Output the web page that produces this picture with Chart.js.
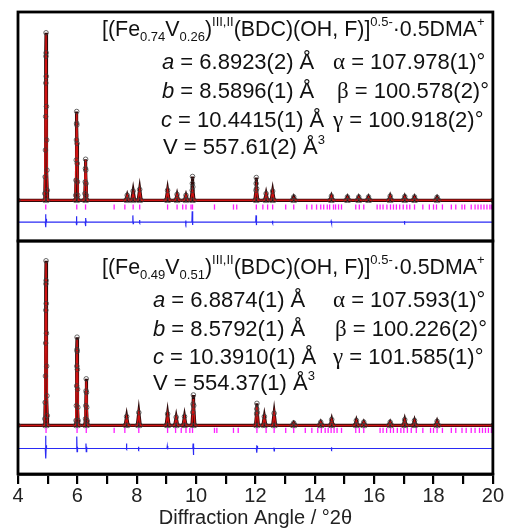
<!DOCTYPE html>
<html>
<head>
<meta charset="utf-8">
<script src="https://cdn.jsdelivr.net/npm/chart.js@4.4.1/dist/chart.umd.min.js"></script>
<style>
  html, body { margin: 0; padding: 0; background: #fff; }
  #wrap { width: 506px; height: 529px; }
</style>
</head>
<body>
<div id="wrap"><canvas id="xrd"></canvas></div>
<script>
// ---- top panel : (Fe0.74V0.26) ----
const topPeakX = [4.945, 5.978, 6.278, 7.68, 7.88, 8.10, 9.04, 9.36, 9.66, 9.88, 12.03, 12.36, 12.58, 13.29, 14.56, 15.10, 15.48, 15.81, 16.54, 17.03, 17.36, 18.12];
const topCalcH = [99, 52, 24, 3, 4.5, 6.5, 6, 3.5, 3, 6, 8.3, 4, 5.3, 1.5, 2.5, 1.8, 1.8, 1.8, 2.5, 2, 1.8, 1.5];
const topObsH  = [100, 53, 24.5, 3, 5.5, 6.5, 6, 3.5, 3, 14.2, 13.6, 4, 5.5, 2, 2.5, 2, 2, 2, 2.5, 2.2, 2, 1.8];
// extra observed points on the flanks of the strong reflections
const topFlankX = [4.905, 4.915, 4.925, 4.932, 4.938, 4.942, 4.948, 4.952, 4.958, 4.965, 4.975, 4.985,
                   5.945, 5.955, 5.963, 5.970, 5.975, 5.982, 5.988, 5.995, 6.003, 6.012,
                   6.255, 6.265, 6.272, 6.284, 6.292, 6.302,
                   9.870, 9.875, 9.890, 12.020, 12.025, 12.040];
const topFlankY = [4, 14, 30, 50, 70, 86, 88, 74, 56, 36, 18, 6,
                   3, 12, 24, 36, 46, 45, 34, 22, 11, 3,
                   4, 11, 19, 18, 10, 3,
                   6, 10, 8, 6, 10, 7];
const topDiffX = [4.0, 4.92, 4.93, 4.94, 4.95, 4.96, 5.96, 5.97, 5.98, 5.99, 6.26, 6.27, 6.28, 6.29, 6.30,
                  7.86, 7.87, 7.88, 7.89, 8.08, 8.09, 8.10, 8.11, 9.64, 9.65, 9.66, 9.67, 9.86, 9.87, 9.88, 9.89,
                  12.01, 12.02, 12.03, 12.04, 12.56, 12.57, 12.58, 12.59, 14.54, 14.55, 14.56, 14.57,
                  17.01, 17.02, 17.03, 17.04, 20.0];
const topDiffY = [0, 0, 4.7, -3, 2, 0, 0, 3.5, -1.8, 0, 0, 2.4, -2.4, 1.8, 0,
                  0, 4, -1, 0, 0, 1.2, -0.6, 0, 0, 1, -1, 0, 0, 6.5, -1.8, 0,
                  0, 4, -1.8, 0, 0, 0.8, -0.8, 0, 0, 0.6, -0.6, 0,
                  0, 0.6, -0.5, 0, 0];
const topBraggX = [4.935, 5.98, 6.276, 7.24, 7.60, 7.88, 8.10, 9.04, 9.36, 9.55, 9.66, 9.83, 9.88, 10.62, 11.26, 11.37,
                   12.03, 12.25, 12.41, 12.58, 13.02, 13.29, 13.73, 13.90, 14.06, 14.20, 14.30, 14.42, 14.50, 14.63, 14.70,
                   14.80, 14.90, 15.38, 15.50, 15.65, 16.10, 16.20, 16.30, 16.43, 16.55, 16.65, 16.75, 16.86, 16.98, 17.10,
                   17.20, 17.36, 17.64, 17.86, 18.00, 18.10, 18.30, 18.60, 18.75, 18.96, 19.05, 19.27, 19.40, 19.50, 19.60,
                   19.70, 19.80, 19.90, 19.96];

// ---- bottom panel : (Fe0.49V0.51) ----
const botPeakX = [4.945, 5.99, 6.30, 7.66, 8.07, 9.04, 9.33, 9.61, 9.91, 12.05, 12.30, 12.63, 13.29, 14.20, 14.57, 15.40, 15.65, 16.54, 17.03, 17.36, 18.12];
const botCalcH = [99, 52, 27, 5, 7.5, 6.8, 5, 5.2, 16, 11.5, 5.2, 7.4, 1.5, 2, 3.4, 2.8, 2, 2, 3.3, 2.8, 2.3];
const botObsH  = [100, 53.6, 28.3, 5.4, 7.8, 7, 5, 5.4, 18.5, 13.4, 5.4, 7.4, 1.5, 2, 3.6, 3, 2, 2, 3.5, 3, 2.5];
const botFlankX = [4.905, 4.915, 4.925, 4.932, 4.938, 4.942, 4.948, 4.952, 4.958, 4.965, 4.975, 4.985,
                   5.957, 5.967, 5.975, 5.982, 5.987, 5.994, 6.000, 6.007, 6.015, 6.024,
                   6.275, 6.285, 6.293, 6.307, 6.315, 6.325,
                   9.890, 9.900, 9.920, 12.040, 12.045, 12.060];
const botFlankY = [4, 14, 30, 50, 70, 86, 88, 74, 56, 36, 18, 6,
                   3, 12, 24, 36, 46, 45, 34, 22, 11, 3,
                   4, 12, 21, 20, 11, 3,
                   8, 13, 12, 7, 10, 8];
const botDiffX = [4.0, 4.92, 4.93, 4.94, 4.95, 4.96, 5.97, 5.98, 5.99, 6.00, 6.01, 6.28, 6.29, 6.30, 6.31, 6.32,
                  7.64, 7.65, 7.66, 7.67, 8.05, 8.06, 8.07, 8.08, 9.02, 9.03, 9.04, 9.05, 9.89, 9.90, 9.91, 9.92, 9.93,
                  12.03, 12.04, 12.05, 12.06, 12.07, 12.61, 12.62, 12.63, 12.64, 14.55, 14.56, 14.57, 14.58, 20.0];
const botDiffY = [0, 0, 7.8, -6, 2, 0, 0, 7.2, -2, 1, 0, 0, 3, -2, 1, 0,
                  0, 3, -0.5, 0, 0, 1, -0.5, 0, 0, 1.5, -0.5, 0, 0, 3, -4, 1, 0,
                  0, 2, -2.5, 1.5, 0, 0, 0.5, -1.5, 0, 0, 0.8, -0.5, 0, 0];
const botBraggX = [4.945, 5.99, 6.30, 7.24, 7.60, 8.07, 9.04, 9.31, 9.50, 9.66, 9.79, 9.88, 10.62, 10.70, 11.26, 11.42,
                   12.05, 12.36, 12.63, 13.02, 13.29, 13.68, 13.90, 14.10, 14.22, 14.35, 14.45, 14.55, 14.65, 14.75, 14.90,
                   15.38, 15.50, 15.65, 16.20, 16.30, 16.42, 16.55, 16.65, 16.78, 16.90, 17.00, 17.12, 17.25, 17.42, 17.64,
                   17.90, 18.00, 18.12, 18.30, 18.60, 18.75, 18.96, 19.10, 19.27, 19.40, 19.55, 19.65, 19.75, 19.85, 19.95];

const xTicks = [4, 6, 8, 10, 12, 14, 16, 18, 20];

// offsets (where the difference curve and reflection marks sit in each panel)
const TOP_DIFF = -13, TOP_BRAGG = -4;
const BOT_DIFF = -14, BOT_BRAGG = -3;
const HALF_W = 0.05;

function calcCurve(px, ph) {
    const pts = [{ x: 4, y: 0 }];
    px.forEach((p, i) => {
        pts.push({ x: p - HALF_W, y: 0 }, { x: p, y: ph[i] }, { x: p + HALF_W, y: 0 });
    });
    pts.push({ x: 20, y: 0 });
    return pts;
}

function obsCurve(px, ph, fx, fy) {
    const pts = calcCurve(px, ph);
    fx.forEach((x, i) => pts.push({ x: x, y: fy[i] }));
    return pts.sort((a, b) => a.x - b.x);
}

function offsetCurve(xs, ys, off) {
    return xs.map((x, i) => ({ x: x, y: ys[i] + off }));
}

function panelSets(axis, px, calcH, obsH, fx, fy, dx, dy, diffOff, bx, braggOff) {
    const obs = obsCurve(px, obsH, fx, fy);
    return [
        { data: obs, yAxisID: axis, showLine: false, pointRadius: 2.3, pointBorderWidth: 0.9,
          pointBorderColor: 'rgba(60,60,60,0.85)', pointBackgroundColor: 'rgba(255,255,255,0)' },
        { data: calcCurve(px, calcH), yAxisID: axis, showLine: true, borderColor: '#d01212',
          borderWidth: 1.5, pointRadius: 0, tension: 0 },
        { data: obs, yAxisID: axis, showLine: true, borderColor: '#300a0a', borderWidth: 3.2,
          pointRadius: 0, tension: 0 },
        { data: offsetCurve(dx, dy, diffOff), yAxisID: axis, showLine: true, borderColor: '#2a2af5',
          borderWidth: 1.2, pointRadius: 0, tension: 0 },
        { data: bx.map(x => ({ x: x, y: braggOff })), yAxisID: axis, showLine: false,
          pointStyle: 'line', rotation: 90, pointRadius: 2.6, pointBorderWidth: 1.3,
          pointBorderColor: '#ff20ff' }
    ];
}

const datasets = [].concat(
    panelSets('yTop', topPeakX, topCalcH, topObsH, topFlankX, topFlankY, topDiffX, topDiffY, TOP_DIFF, topBraggX, TOP_BRAGG),
    panelSets('yBot', botPeakX, botCalcH, botObsH, botFlankX, botFlankY, botDiffX, botDiffY, BOT_DIFF, botBraggX, BOT_BRAGG)
);

const SANS = '"Liberation Sans", Arial, sans-serif';
const SERIF = '"Liberation Serif", "Times New Roman", serif';

function drawRich(ctx, x, y, parts, size) {
    const fs = size || 22;
    let cx = x;
    parts.forEach(([t, k]) => {
        let font = fs + 'px ' + SANS, dy = 0;
        if (k === 'i') font = 'italic ' + fs + 'px ' + SANS;
        if (k === 'g') font = (fs + 1) + 'px ' + SERIF;
        if (k === 'sub') { font = '13px ' + SANS; dy = 7; }
        if (k === 'sup') { font = '13px ' + SANS; dy = -8; }
        ctx.font = font;
        ctx.fillText(t, cx, y + dy);
        cx += ctx.measureText(t).width;
    });
}

const labelPlugin = {
    id: 'labels',
    afterDraw(chart) {
        const ctx = chart.ctx;
        const area = chart.chartArea;
        ctx.save();
        // panel frames
        ctx.strokeStyle = '#000';
        ctx.lineWidth = 2.8;
        ['yTop', 'yBot'].forEach(id => {
            const s = chart.scales[id];
            ctx.strokeRect(area.left, s.top, area.right - area.left, s.bottom - s.top);
        });
        ctx.fillStyle = '#111';
        ctx.textBaseline = 'middle';
        const t = chart.scales.yTop.top, b = chart.scales.yBot.top;
        drawRich(ctx, 102, t + 18, [['[(Fe', 'n'], ['0.74', 'sub'], ['V', 'n'], ['0.26', 'sub'], [')', 'n'], ['III,II', 'sup'],
            ['(BDC)(OH, F)]', 'n'], ['0.5-', 'sup'], ['·0.5DMA', 'n'], ['+', 'sup']], 21.4);
        drawRich(ctx, 162, t + 51, [['a', 'i'], [' = 6.8923(2) Å', 'n']]);
        drawRich(ctx, 333, t + 51, [['α', 'g'], [' = 107.978(1)°', 'n']]);
        drawRich(ctx, 162, t + 80, [['b', 'i'], [' = 8.5896(1) Å', 'n']]);
        drawRich(ctx, 337, t + 80, [['β', 'g'], [' = 100.578(2)°', 'n']]);
        drawRich(ctx, 161, t + 109, [['c', 'i'], [' = 10.4415(1) Å', 'n']]);
        drawRich(ctx, 333, t + 109, [['γ', 'g'], [' = 100.918(2)°', 'n']]);
        drawRich(ctx, 163, t + 136, [['V = 557.61(2) Å', 'n'], ['3', 'sup']]);

        drawRich(ctx, 102, b + 27, [['[(Fe', 'n'], ['0.49', 'sub'], ['V', 'n'], ['0.51', 'sub'], [')', 'n'], ['III,II', 'sup'],
            ['(BDC)(OH, F)]', 'n'], ['0.5-', 'sup'], ['·0.5DMA', 'n'], ['+', 'sup']], 21.4);
        drawRich(ctx, 153, b + 60, [['a', 'i'], [' = 6.8874(1) Å', 'n']]);
        drawRich(ctx, 333, b + 60, [['α', 'g'], [' = 107.593(1)°', 'n']]);
        drawRich(ctx, 153, b + 89, [['b', 'i'], [' = 8.5792(1) Å', 'n']]);
        drawRich(ctx, 335, b + 89, [['β', 'g'], [' = 100.226(2)°', 'n']]);
        drawRich(ctx, 153, b + 117, [['c', 'i'], [' = 10.3910(1) Å', 'n']]);
        drawRich(ctx, 333, b + 117, [['γ', 'g'], [' = 101.585(1)°', 'n']]);
        drawRich(ctx, 153, b + 143, [['V = 554.37(1) Å', 'n'], ['3', 'sup']]);
        ctx.restore();
    }
};

new Chart(document.getElementById('xrd'), {
    type: 'scatter',
    data: { datasets: datasets },
    options: {
        animation: false,
        responsive: true,
        maintainAspectRatio: false,
        devicePixelRatio: 1,
        layout: { padding: { left: 10, right: 11, top: 12, bottom: 0 } },
        plugins: { legend: { display: false }, tooltip: { enabled: false } },
        scales: {
            x: {
                type: 'linear', min: 4, max: 20,
                afterBuildTicks: axis => {
                    const all = [];
                    for (let v = 4; v <= 20; v++) all.push({ value: v });
                    axis.ticks = all;
                },
                ticks: {
                    autoSkip: false, maxRotation: 0, padding: 2, color: '#222',
                    font: { size: 20, family: SANS, lineHeight: 1 },
                    callback: v => (xTicks.includes(v) ? String(v) : '')
                },
                grid: { drawOnChartArea: false, drawTicks: true, tickLength: 10, color: '#000', lineWidth: 2.2 },
                border: { display: true, color: '#000', width: 2.8 },
                title: {
                    display: true, text: 'Diffraction Angle / °2θ', color: '#222',
                    font: { size: 20, family: SANS, lineHeight: 1 }, padding: { top: 0, bottom: 1 }
                }
            },
            // the first axis of a stack is laid out at the bottom
            yBot: {
                type: 'linear', position: 'left', stack: 'panels', stackWeight: 235,
                min: -29.5, max: 112,
                ticks: { display: false }, grid: { display: false }, border: { display: false }
            },
            yTop: {
                type: 'linear', position: 'left', stack: 'panels', stackWeight: 231,
                min: -24.3, max: 112.4,
                ticks: { display: false }, grid: { display: false }, border: { display: false }
            }
        }
    },
    plugins: [labelPlugin]
});
</script>
</body>
</html>
